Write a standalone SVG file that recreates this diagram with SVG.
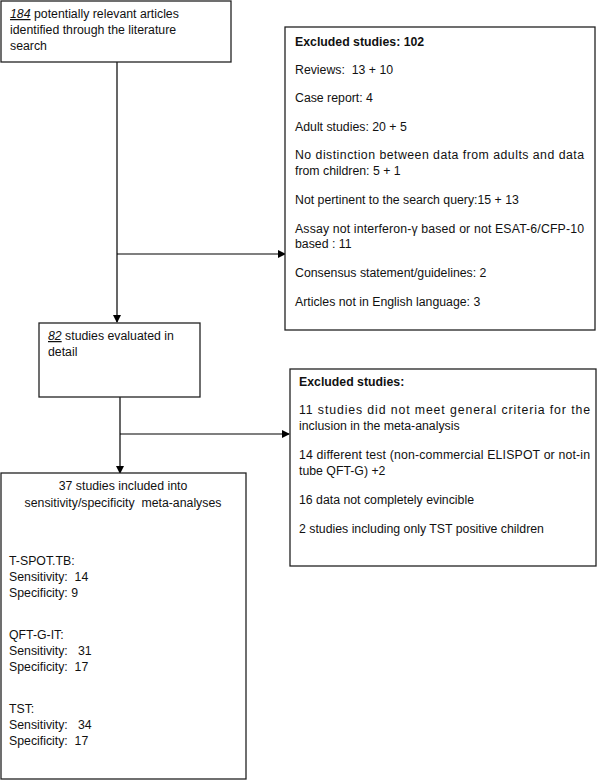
<svg xmlns="http://www.w3.org/2000/svg" width="600" height="781" viewBox="0 0 600 781">
<defs>
<marker id="ah" markerWidth="8" markerHeight="8" refX="7" refY="4" orient="auto" markerUnits="userSpaceOnUse">
<path d="M0,0 L8,4 L0,8 Z" fill="#000"/>
</marker>
<style>
.box{fill:#fff;stroke:#222;stroke-width:1.3}
.t{font-family:"Liberation Sans",Arial,sans-serif;font-size:12.3px;fill:#111;white-space:pre}
.b{font-weight:bold}
.c{stroke:#000;stroke-width:1.2;fill:none}
.u{font-style:italic;text-decoration:underline}
</style>
</defs>
<rect width="600" height="781" fill="#fff"/>
<g id="connectors">
<line class="c" x1="117" y1="62" x2="117" y2="322" marker-end="url(#ah)"/>
<line class="c" x1="117" y1="254" x2="285" y2="254" marker-end="url(#ah)"/>
<line class="c" x1="120" y1="397" x2="120" y2="473" marker-end="url(#ah)"/>
<line class="c" x1="120" y1="434" x2="289" y2="434" marker-end="url(#ah)"/>
</g>
<g id="n-identified">
<rect class="box" x="1" y="1" width="230" height="61"/>
<text class="t" x="10" y="18"><tspan class="u">184</tspan> potentially relevant articles</text>
<text class="t" x="10" y="34">identified through the literature</text>
<text class="t" x="10" y="50">search</text>
</g>
<g id="n-excluded1">
<rect class="box" x="285" y="27" width="310" height="303"/>
<text class="t b" x="295" y="46">Excluded studies: 102</text>
<text class="t" x="295" y="74">Reviews:  13 + 10</text>
<text class="t" x="295" y="102">Case report: 4</text>
<text class="t" x="295" y="131">Adult studies: 20 + 5</text>
<text class="t" x="295" y="159" textLength="289" lengthAdjust="spacing">No distinction between data from adults and data</text>
<text class="t" x="295" y="175">from children: 5 + 1</text>
<text class="t" x="295" y="204">Not pertinent to the search query:15 + 13</text>
<text class="t" x="295" y="233" textLength="289" lengthAdjust="spacing">Assay not interferon-γ based or not ESAT-6/CFP-10</text>
<text class="t" x="295" y="248">based : 11</text>
<text class="t" x="295" y="277">Consensus statement/guidelines: 2</text>
<text class="t" x="295" y="306">Articles not in English language: 3</text>
</g>
<g id="n-evaluated">
<rect class="box" x="39" y="323" width="161" height="74"/>
<text class="t" x="48" y="340"><tspan class="u">82</tspan> studies evaluated in</text>
<text class="t" x="48" y="356">detail</text>
</g>
<g id="n-excluded2">
<rect class="box" x="290" y="369" width="306" height="197"/>
<text class="t b" x="299" y="386">Excluded studies:</text>
<text class="t" x="299" y="414" textLength="291" lengthAdjust="spacing">11 studies did not meet general criteria for the</text>
<text class="t" x="299" y="430">inclusion in the meta-analysis</text>
<text class="t" x="299" y="459" textLength="291" lengthAdjust="spacing">14 different test (non-commercial ELISPOT or not-in</text>
<text class="t" x="299" y="475">tube QFT-G) +2</text>
<text class="t" x="299" y="504">16 data not completely evincible</text>
<text class="t" x="299" y="533">2 studies including only TST positive children</text>
</g>
<g id="n-included">
<rect class="box" x="1" y="473" width="245" height="306"/>
<text class="t" x="123" y="490" text-anchor="middle">37 studies included into</text>
<text class="t" x="123" y="507" text-anchor="middle">sensitivity/specificity  meta-analyses</text>
<text class="t" x="9" y="565">T-SPOT.TB:</text>
<text class="t" x="9" y="581">Sensitivity:  14</text>
<text class="t" x="9" y="597">Specificity: 9</text>
<text class="t" x="9" y="639">QFT-G-IT:</text>
<text class="t" x="9" y="655">Sensitivity:   31</text>
<text class="t" x="9" y="671">Specificity:  17</text>
<text class="t" x="9" y="713">TST:</text>
<text class="t" x="9" y="729">Sensitivity:   34</text>
<text class="t" x="9" y="745">Specificity:  17</text>
</g>
</svg>
